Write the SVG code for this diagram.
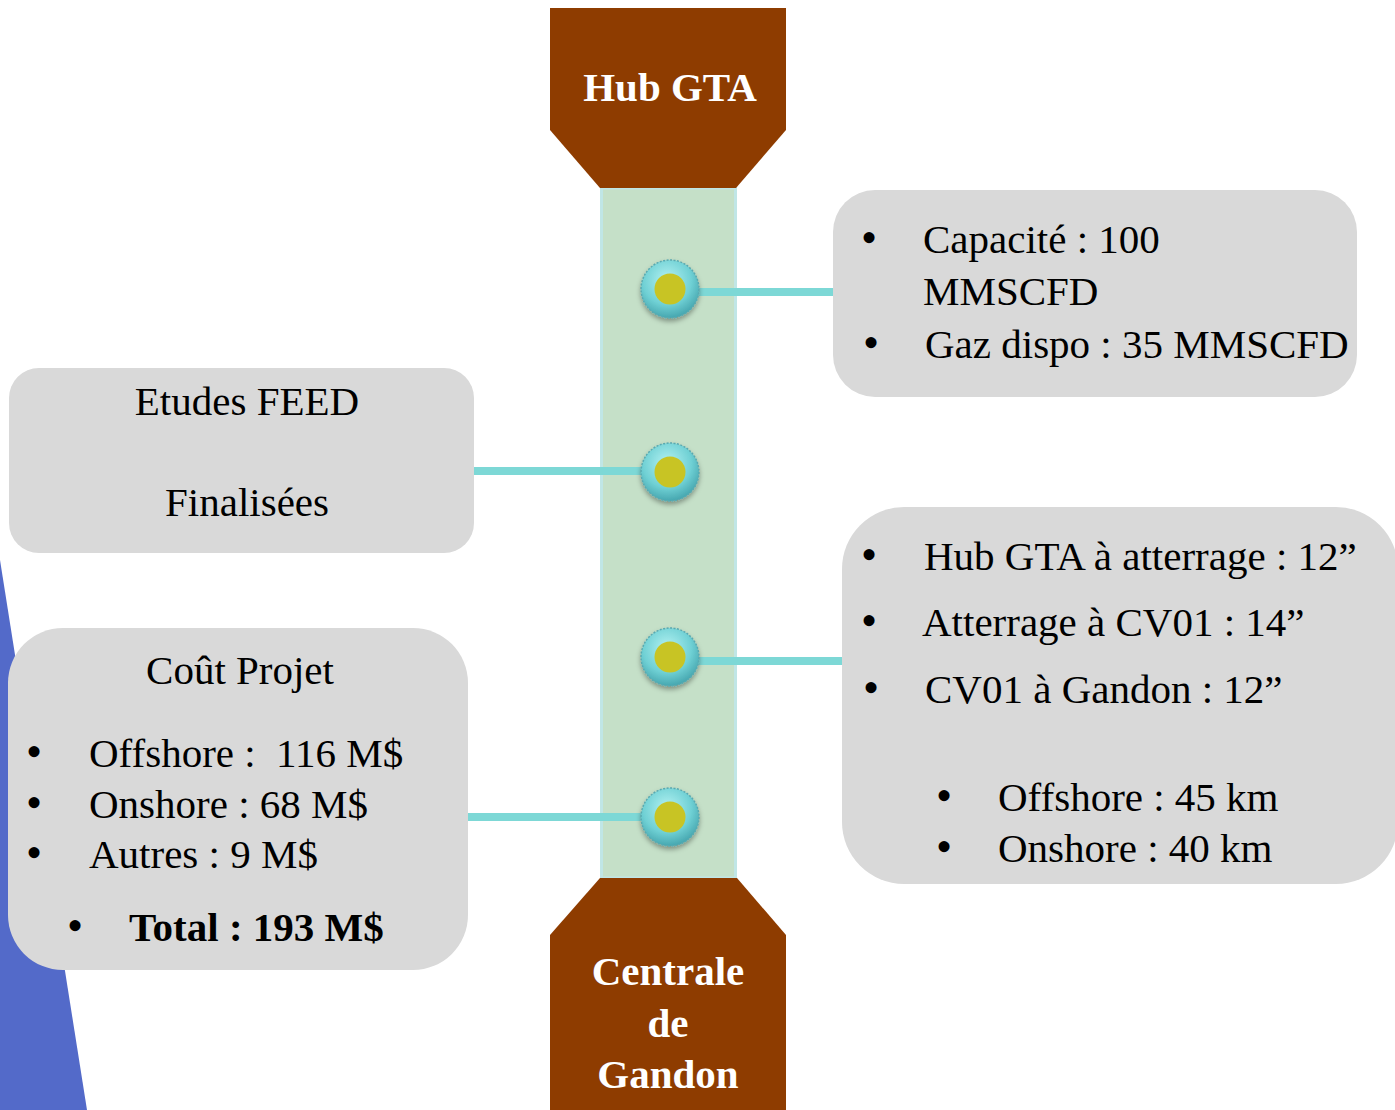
<svg xmlns="http://www.w3.org/2000/svg" width="1395" height="1110" viewBox="0 0 1395 1110">
  <defs>
    <radialGradient id="bead" cx="0.45" cy="0.35" r="0.7">
      <stop offset="0" stop-color="#b4f2f2"/>
      <stop offset="0.6" stop-color="#6fd0d4"/>
      <stop offset="1" stop-color="#3e9ea8"/>
    </radialGradient>
    <filter id="sh" x="-30%" y="-30%" width="160%" height="170%">
      <feDropShadow dx="0" dy="3" stdDeviation="2.5" flood-color="#000" flood-opacity="0.35"/>
    </filter>
    <style>
      .box { fill: #d9d9d9; }
      .txt { font-family: "Liberation Serif", "Times New Roman", serif; font-size: 41px; fill: #000; }
      .bul { font-family: "Liberation Serif", "Times New Roman", serif; font-size: 46px; fill: #000; }
      .ttl { font-family: "Liberation Serif", "Times New Roman", serif; font-size: 41px; font-weight: bold; fill: #fff; text-anchor: middle; }
      .brown { fill: #8e3c00; }
      .conn { stroke: #7dd8d6; stroke-width: 8; fill: none; }
      .dot { fill: #c8c424; }
      .bead { fill: url(#bead); stroke: #5aa9b0; stroke-width: 1.5; stroke-dasharray: 2 1.5; filter: url(#sh); }
    </style>
  </defs>

  <rect width="1395" height="1110" fill="#ffffff"/>
  <polygon points="0,560 87,1110 0,1110" fill="#536ac9"/>

  <g id="spine">
    <rect x="601.5" y="188" width="134" height="690" fill="#c5e0c8" stroke="#c0e6e6" stroke-width="3"/>
  </g>

  <g id="connectors">
    <line class="conn" x1="690" y1="292" x2="835" y2="292"/>
    <line class="conn" x1="472" y1="471" x2="650" y2="471"/>
    <line class="conn" x1="690" y1="661" x2="845" y2="661"/>
    <line class="conn" x1="466" y1="817" x2="650" y2="817"/>
  </g>

  <g id="hub-gta">
    <polygon class="brown" points="550,8 786,8 786,130 736,188 600,188 550,130"/>
    <text class="ttl" x="670" y="101">Hub GTA</text>
  </g>

  <g id="centrale-gandon">
    <polygon class="brown" points="600,878 737,878 786,935 786,1110 550,1110 550,935"/>
    <text class="ttl" x="668" y="985">Centrale</text>
    <text class="ttl" x="668" y="1037">de</text>
    <text class="ttl" x="668" y="1088">Gandon</text>
  </g>

  <g id="capacite">
    <rect class="box" x="833" y="190" width="524" height="207" rx="42"/>
    <text class="bul" x="861" y="253">•</text>
    <text class="txt" x="923" y="253">Capacité : 100</text>
    <text class="txt" x="923" y="305">MMSCFD</text>
    <text class="bul" x="863" y="358">•</text>
    <text class="txt" x="925" y="358">Gaz dispo : 35 MMSCFD</text>
  </g>

  <g id="etudes-feed">
    <rect class="box" x="9" y="368" width="465" height="185" rx="30"/>
    <text class="txt" x="247" y="415" text-anchor="middle">Etudes FEED</text>
    <text class="txt" x="247" y="516" text-anchor="middle">Finalisées</text>
  </g>

  <g id="diametres">
    <rect class="box" x="842" y="507" width="556" height="377" rx="62"/>
    <text class="bul" x="861" y="570">•</text>
    <text class="txt" x="924" y="570">Hub GTA à atterrage : 12”</text>
    <text class="bul" x="861" y="636">•</text>
    <text class="txt" x="922" y="636">Atterrage à CV01 : 14”</text>
    <text class="bul" x="863" y="703">•</text>
    <text class="txt" x="925" y="703">CV01 à Gandon : 12”</text>
    <text class="bul" x="936" y="811">•</text>
    <text class="txt" x="998" y="811">Offshore : 45 km</text>
    <text class="bul" x="936" y="862">•</text>
    <text class="txt" x="998" y="862">Onshore : 40 km</text>
  </g>

  <g id="cout-projet">
    <rect class="box" x="8" y="628" width="460" height="342" rx="55"/>
    <text class="txt" x="240" y="684" text-anchor="middle">Coût Projet</text>
    <text class="bul" x="26" y="767">•</text>
    <text class="txt" x="89" y="767" xml:space="preserve">Offshore :  116 M$</text>
    <text class="bul" x="26" y="818">•</text>
    <text class="txt" x="89" y="818">Onshore : 68 M$</text>
    <text class="bul" x="26" y="868">•</text>
    <text class="txt" x="89" y="868">Autres : 9 M$</text>
    <text class="bul" x="67" y="941">•</text>
    <text class="txt" x="129" y="941" font-weight="bold">Total : 193 M$</text>
  </g>

  <g id="bead-1">
    <circle class="bead" cx="670" cy="289" r="29"/>
    <circle class="dot" cx="670" cy="289" r="15.5"/>
  </g>
  <g id="bead-2">
    <circle class="bead" cx="670" cy="472" r="29"/>
    <circle class="dot" cx="670" cy="472" r="15.5"/>
  </g>
  <g id="bead-3">
    <circle class="bead" cx="670" cy="657" r="29"/>
    <circle class="dot" cx="670" cy="657" r="15.5"/>
  </g>
  <g id="bead-4">
    <circle class="bead" cx="670" cy="817" r="29"/>
    <circle class="dot" cx="670" cy="817" r="15.5"/>
  </g>
</svg>
